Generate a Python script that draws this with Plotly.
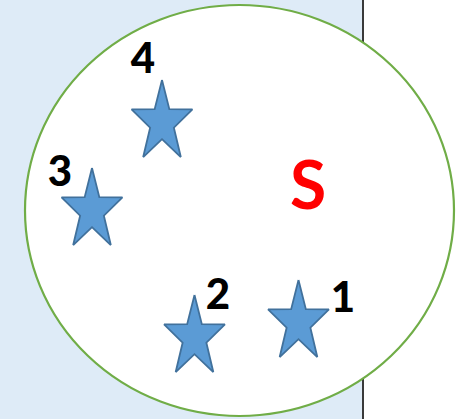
import numpy as np
import plotly.graph_objects as go

# canvas in pixel-like units (y grows downward)
W, H = 462, 419

panel_right = 363          # light blue panel / divider line
circle_x = [25, 454]
circle_y = [5, 416]

star_x = [298.5, 194.5, 92, 162]
star_y = [322.6, 337.6, 210.6, 122.6]
star_names = ["1", "2", "3", "4"]

label_x = [343, 218, 60, 143]
label_y = [301, 298, 175, 62]

set_label = "S"
set_label_xy = (308, 192)

STAR_RX, STAR_RY = 32, 42.6
INNER = 0.39


def star_outline(cx, cy):
    angles = np.deg2rad(90 + 36 * np.arange(11))
    radii = np.where(np.arange(11) % 2 == 0, 1.0, INNER)
    xs = cx + STAR_RX * radii * np.cos(angles)
    ys = cy - STAR_RY * radii * np.sin(angles)
    return xs, ys


fig = go.Figure()

fig.add_shape(type="rect", x0=0, x1=panel_right, y0=0, y1=H,
              fillcolor="#DEEBF7", line_width=0, layer="below")
fig.add_shape(type="line", x0=panel_right, x1=panel_right, y0=0, y1=H,
              line=dict(color="#3a3a3a", width=2), layer="below")
fig.add_shape(type="circle", x0=circle_x[0], x1=circle_x[1], y0=circle_y[0], y1=circle_y[1],
              fillcolor="white", line=dict(color="#70AD47", width=2.2), layer="below")

for cx, cy in zip(star_x, star_y):
    xs, ys = star_outline(cx, cy)
    fig.add_trace(go.Scatter(
        x=xs, y=ys, mode="lines", fill="toself",
        fillcolor="#5B9BD5", line=dict(color="#41719C", width=1.8),
        hoverinfo="skip", showlegend=False,
    ))

fig.add_trace(go.Scatter(
    x=label_x, y=label_y, mode="text", text=star_names,
    textfont=dict(family="Lato", size=42, color="black", weight=900),
    hoverinfo="skip", showlegend=False,
))
fig.add_trace(go.Scatter(
    x=[set_label_xy[0]], y=[set_label_xy[1]], mode="text", text=[set_label],
    textfont=dict(family="Lato", size=66, color="#FF0000", weight="bold"),
    hoverinfo="skip", showlegend=False,
))

fig.update_layout(
    width=W, height=H,
    margin=dict(l=0, r=0, t=0, b=0),
    paper_bgcolor="white", plot_bgcolor="white",
    xaxis=dict(range=[0, W], visible=False, fixedrange=True),
    yaxis=dict(range=[H, 0], visible=False, fixedrange=True),
)

fig.write_html("out.html", config={"displayModeBar": False},
               post_script="document.body.style.margin='0';")
